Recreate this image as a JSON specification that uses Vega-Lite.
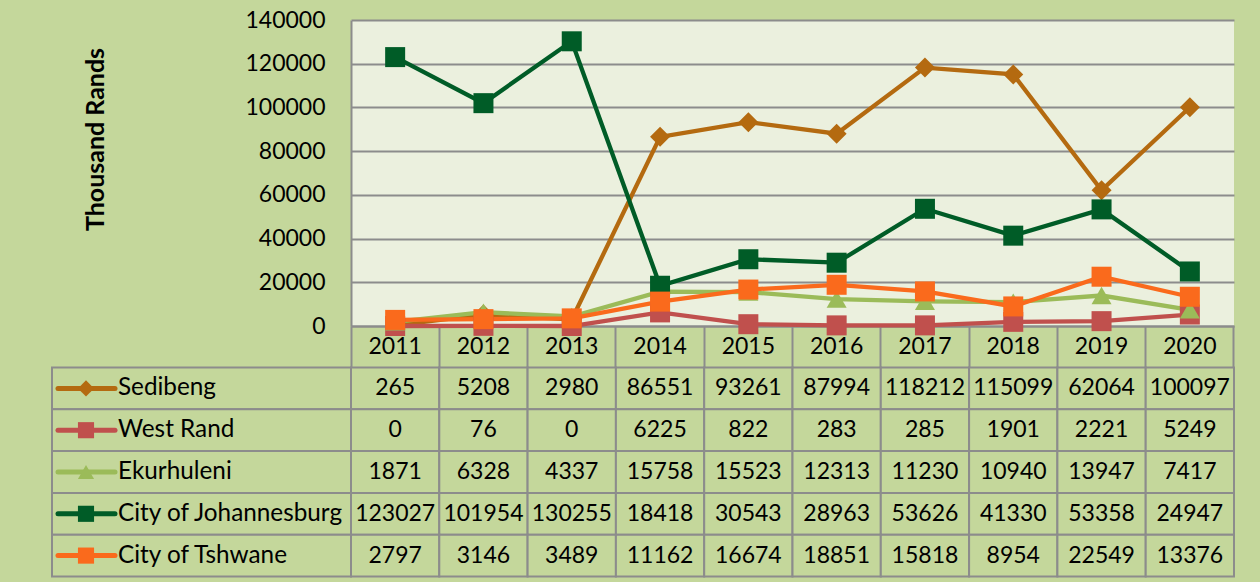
{
  "$schema": "https://vega.github.io/schema/vega-lite/v6.json",
  "background": "#C4D79B",
  "padding": {"left": 51, "top": 9, "right": 26, "bottom": 6},
  "config": {
    "view": {"stroke": null},
    "font": "Lato",
    "text": {"font": "Lato", "fontSize": 23, "color": "#000000"},
    "axis": {"labelFont": "Lato", "labelFontSize": 23, "labelColor": "#000000", "titleFont": "Lato"}
  },
  "datasets": {
    "d": [
      {"series": "Sedibeng", "year": 2011, "value": 265},
      {"series": "Sedibeng", "year": 2012, "value": 5208},
      {"series": "Sedibeng", "year": 2013, "value": 2980},
      {"series": "Sedibeng", "year": 2014, "value": 86551},
      {"series": "Sedibeng", "year": 2015, "value": 93261},
      {"series": "Sedibeng", "year": 2016, "value": 87994},
      {"series": "Sedibeng", "year": 2017, "value": 118212},
      {"series": "Sedibeng", "year": 2018, "value": 115099},
      {"series": "Sedibeng", "year": 2019, "value": 62064},
      {"series": "Sedibeng", "year": 2020, "value": 100097},
      {"series": "West Rand", "year": 2011, "value": 0},
      {"series": "West Rand", "year": 2012, "value": 76},
      {"series": "West Rand", "year": 2013, "value": 0},
      {"series": "West Rand", "year": 2014, "value": 6225},
      {"series": "West Rand", "year": 2015, "value": 822},
      {"series": "West Rand", "year": 2016, "value": 283},
      {"series": "West Rand", "year": 2017, "value": 285},
      {"series": "West Rand", "year": 2018, "value": 1901},
      {"series": "West Rand", "year": 2019, "value": 2221},
      {"series": "West Rand", "year": 2020, "value": 5249},
      {"series": "Ekurhuleni", "year": 2011, "value": 1871},
      {"series": "Ekurhuleni", "year": 2012, "value": 6328},
      {"series": "Ekurhuleni", "year": 2013, "value": 4337},
      {"series": "Ekurhuleni", "year": 2014, "value": 15758},
      {"series": "Ekurhuleni", "year": 2015, "value": 15523},
      {"series": "Ekurhuleni", "year": 2016, "value": 12313},
      {"series": "Ekurhuleni", "year": 2017, "value": 11230},
      {"series": "Ekurhuleni", "year": 2018, "value": 10940},
      {"series": "Ekurhuleni", "year": 2019, "value": 13947},
      {"series": "Ekurhuleni", "year": 2020, "value": 7417},
      {"series": "City of Johannesburg", "year": 2011, "value": 123027},
      {"series": "City of Johannesburg", "year": 2012, "value": 101954},
      {"series": "City of Johannesburg", "year": 2013, "value": 130255},
      {"series": "City of Johannesburg", "year": 2014, "value": 18418},
      {"series": "City of Johannesburg", "year": 2015, "value": 30543},
      {"series": "City of Johannesburg", "year": 2016, "value": 28963},
      {"series": "City of Johannesburg", "year": 2017, "value": 53626},
      {"series": "City of Johannesburg", "year": 2018, "value": 41330},
      {"series": "City of Johannesburg", "year": 2019, "value": 53358},
      {"series": "City of Johannesburg", "year": 2020, "value": 24947},
      {"series": "City of Tshwane", "year": 2011, "value": 2797},
      {"series": "City of Tshwane", "year": 2012, "value": 3146},
      {"series": "City of Tshwane", "year": 2013, "value": 3489},
      {"series": "City of Tshwane", "year": 2014, "value": 11162},
      {"series": "City of Tshwane", "year": 2015, "value": 16674},
      {"series": "City of Tshwane", "year": 2016, "value": 18851},
      {"series": "City of Tshwane", "year": 2017, "value": 15818},
      {"series": "City of Tshwane", "year": 2018, "value": 8954},
      {"series": "City of Tshwane", "year": 2019, "value": 22549},
      {"series": "City of Tshwane", "year": 2020, "value": 13376}
    ]
  },
  "columns": 2,
  "bounds": "flush",
  "spacing": {"row": 41.5, "column": 0},
  "concat": [
    {"width": 299, "height": 306, "data": {"values": []}, "mark": "text"},
    {
      "width": 883,
      "height": 306,
      "data": {"name": "d"},
      "view": {"fill": "#EBF0DE", "stroke": null},
      "encoding": {
        "x": {
          "field": "year", "type": "ordinal", "bandPosition": 0.5,
          "scale": {"type": "band", "paddingInner": 0, "paddingOuter": 0},
          "axis": {
            "title": null, "orient": "bottom", "labelAngle": 0, "bandPosition": 1, "tickExtra": true,
            "ticks": true, "tickSize": 41.5, "tickColor": "#8c8c8c", "tickWidth": 2,
            "domainColor": "#8c8c8c", "domainWidth": 2, "labelPadding": -20.75,
            "labelBaseline": "middle", "grid": false, "labelFlush": false, "labelOverlap": false
          }
        },
        "y": {
          "field": "value", "type": "quantitative",
          "scale": {"domain": [0, 140000], "nice": false, "zero": true},
          "axis": {
            "title": "Thousand Rands", "titleFontSize": 25, "titleFontWeight": "bold", "titleColor": "#000000",
            "titleAngle": -90, "titleAlign": "center", "titleBaseline": "middle", "titleX": -256, "titleY": 119,
            "values": [0, 20000, 40000, 60000, 80000, 100000, 120000, 140000],
            "format": "d", "ticks": false, "labelPadding": 26, "labelFlush": false, "labelOverlap": false,
            "domainColor": "#8c8c8c", "domainWidth": 2, "grid": true, "gridColor": "#8c8c8c", "gridWidth": 2
          }
        },
        "color": {
          "field": "series", "type": "nominal",
          "scale": {
            "domain": ["Sedibeng", "West Rand", "Ekurhuleni", "City of Johannesburg", "City of Tshwane"],
            "range": ["#B46A10", "#C0504D", "#9BBB59", "#005C27", "#FA6A1C"]
          },
          "legend": null
        }
      },
      "layer": [
        {"mark": {"type": "line", "strokeWidth": 4.3}},
        {
          "mark": {"type": "point", "filled": true, "size": 400, "opacity": 1},
          "encoding": {
            "shape": {
              "field": "series", "type": "nominal",
              "scale": {
                "domain": ["Sedibeng", "West Rand", "Ekurhuleni", "City of Johannesburg", "City of Tshwane"],
                "range": ["diamond", "square", "triangle-up", "square", "square"]
              },
              "legend": null
            }
          }
        }
      ]
    },
    {
      "width": 299,
      "height": 209,
      "data": {"name": "d"},
      "transform": [{"filter": "datum.year == 2011"}],
      "layer": [
        {
          "mark": {"type": "rect", "fill": "#C4D79B", "stroke": "#8c8c8c", "strokeWidth": 2},
          "encoding": {
            "y": {"field": "series", "type": "nominal",
              "scale": {"domain": ["Sedibeng", "West Rand", "Ekurhuleni", "City of Johannesburg", "City of Tshwane"], "paddingInner": 0, "paddingOuter": 0},
              "axis": null}
          }
        },
        {
          "mark": {"type": "rule", "strokeWidth": 5, "strokeCap": "round"},
          "encoding": {
            "y": {"field": "series", "type": "nominal", "bandPosition": 0.5, "axis": null},
            "x": {"value": 6}, "x2": {"value": 63},
            "color": {"field": "series", "type": "nominal", "legend": null}
          }
        },
        {
          "mark": {"type": "point", "filled": true, "size": 260, "opacity": 1},
          "encoding": {
            "y": {"field": "series", "type": "nominal", "bandPosition": 0.5, "axis": null},
            "x": {"value": 34},
            "color": {"field": "series", "type": "nominal", "legend": null},
            "shape": {"field": "series", "type": "nominal", "legend": null}
          }
        },
        {
          "mark": {"type": "text", "align": "left", "fontSize": 24.3},
          "encoding": {
            "y": {"field": "series", "type": "nominal", "bandPosition": 0.5, "axis": null},
            "x": {"value": 66},
            "text": {"field": "series", "type": "nominal"}
          }
        }
      ]
    },
    {
      "width": 883,
      "height": 209,
      "data": {"name": "d"},
      "encoding": {
        "x": {"field": "year", "type": "ordinal", "scale": {"type": "band", "paddingInner": 0, "paddingOuter": 0}, "axis": null},
        "y": {"field": "series", "type": "nominal",
          "scale": {"domain": ["Sedibeng", "West Rand", "Ekurhuleni", "City of Johannesburg", "City of Tshwane"], "paddingInner": 0, "paddingOuter": 0},
          "axis": null}
      },
      "layer": [
        {"mark": {"type": "rect", "fill": "#C4D79B", "stroke": "#8c8c8c", "strokeWidth": 2}},
        {"mark": {"type": "text"}, "encoding": {"text": {"field": "value", "type": "quantitative", "format": "d"}}}
      ]
    }
  ]
}
